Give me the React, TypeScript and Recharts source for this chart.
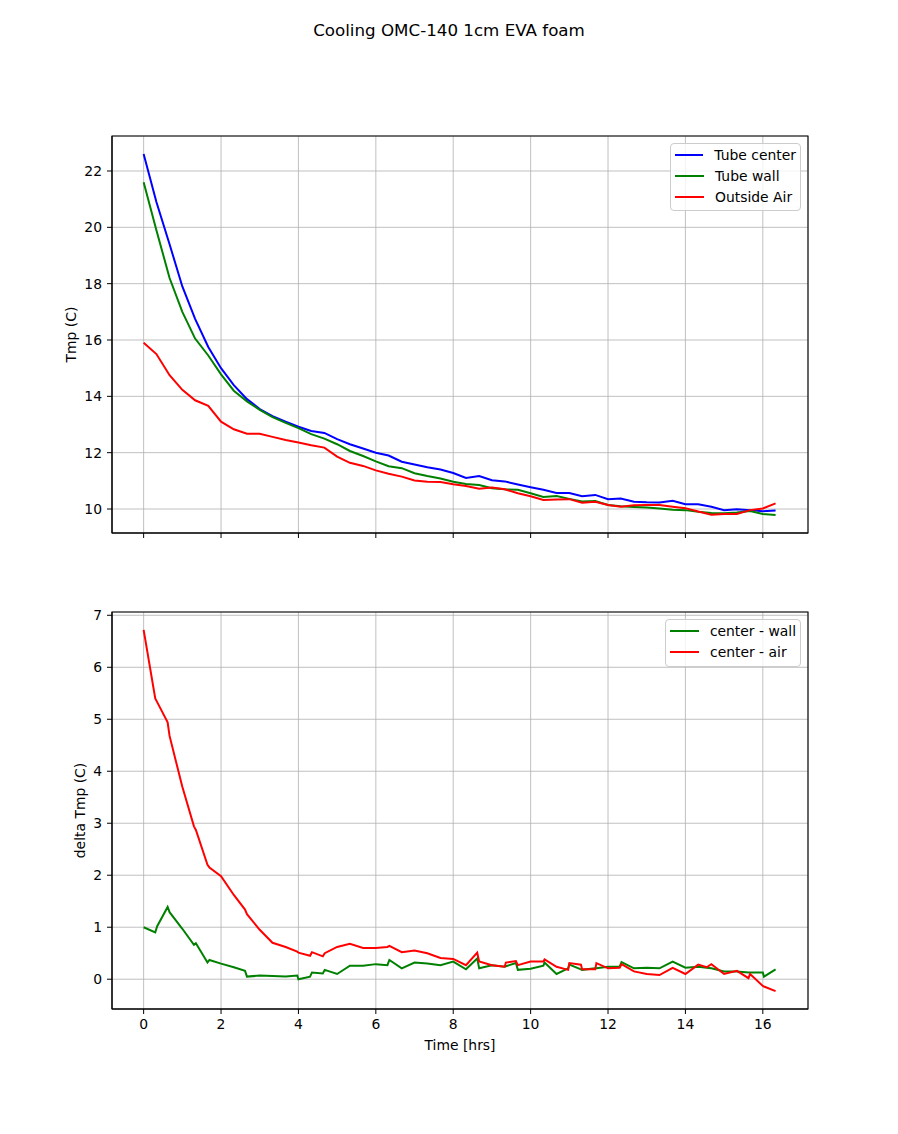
import React from 'react';
import { LineChart, Line, XAxis, YAxis, CartesianGrid, ReferenceArea, Legend } from 'recharts';

// ---- Data ----
const hours = [0, 0.33, 0.67, 1, 1.33, 1.67, 2, 2.33, 2.67, 3, 3.33, 3.67, 4, 4.33, 4.67, 5, 5.33, 5.67, 6, 6.33, 6.67, 7, 7.33, 7.67, 8, 8.33, 8.67, 9, 9.33, 9.67, 10, 10.33, 10.67, 11, 11.33, 11.67, 12, 12.33, 12.67, 13, 13.33, 13.67, 14, 14.33, 14.67, 15, 15.33, 15.67, 16, 16.33];
const tubeCenter = [22.6, 20.9, 19.4, 17.9, 16.75, 15.75, 15.0, 14.4, 13.9, 13.55, 13.3, 13.1, 12.92, 12.77, 12.7, 12.48, 12.3, 12.15, 12.0, 11.9, 11.68, 11.58, 11.48, 11.4, 11.28, 11.1, 11.17, 11.02, 10.98, 10.87, 10.77, 10.68, 10.57, 10.57, 10.45, 10.5, 10.35, 10.37, 10.26, 10.24, 10.23, 10.29, 10.17, 10.17, 10.08, 9.96, 9.99, 9.96, 9.92, 9.95];
const tubeWall = [21.6, 19.9, 18.2, 17.0, 16.05, 15.45, 14.78, 14.2, 13.82, 13.52, 13.26, 13.06, 12.87, 12.66, 12.5, 12.3, 12.06, 11.88, 11.69, 11.52, 11.45, 11.27, 11.17, 11.08, 10.97, 10.89, 10.85, 10.74, 10.7, 10.68, 10.56, 10.43, 10.46, 10.36, 10.27, 10.28, 10.14, 10.1, 10.07, 10.05, 10.02, 9.97, 9.96, 9.9, 9.86, 9.85, 9.88, 9.93, 9.82, 9.79];
const outsideAir = [15.9, 15.5, 14.75, 14.23, 13.86, 13.66, 13.1, 12.83, 12.67, 12.67, 12.56, 12.45, 12.36, 12.26, 12.18, 11.86, 11.64, 11.53, 11.37, 11.25, 11.15, 11.01, 10.97, 10.96, 10.88, 10.82, 10.72, 10.76, 10.7, 10.56, 10.45, 10.32, 10.34, 10.35, 10.22, 10.26, 10.14, 10.08, 10.13, 10.14, 10.14, 10.08, 10.03, 9.91, 9.8, 9.82, 9.82, 9.96, 10.02, 10.2];

const deltaHours = [0, 0.3, 0.35, 0.62, 0.67, 1, 1.3, 1.35, 1.65, 1.7, 2, 2.33, 2.62, 2.67, 3, 3.33, 3.67, 3.97, 4, 4.3, 4.35, 4.63, 4.68, 5, 5.33, 5.67, 6, 6.3, 6.35, 6.67, 7, 7.33, 7.67, 8, 8.33, 8.62, 8.67, 9, 9.33, 9.36, 9.62, 9.67, 10, 10.33, 10.36, 10.67, 10.97, 11, 11.3, 11.33, 11.67, 11.7, 12, 12.3, 12.35, 12.67, 13, 13.33, 13.67, 14, 14.33, 14.55, 14.67, 15, 15.33, 15.63, 15.67, 16, 16.03, 16.33];
const centerMinusWall = [1.0, 0.9, 1.02, 1.39, 1.29, 0.97, 0.66, 0.69, 0.32, 0.37, 0.3, 0.23, 0.16, 0.05, 0.07, 0.06, 0.05, 0.07, 0.0, 0.05, 0.13, 0.11, 0.18, 0.1, 0.26, 0.26, 0.29, 0.27, 0.37, 0.21, 0.32, 0.3, 0.27, 0.34, 0.19, 0.4, 0.21, 0.27, 0.24, 0.25, 0.31, 0.18, 0.2, 0.26, 0.32, 0.1, 0.21, 0.28, 0.19, 0.18, 0.21, 0.21, 0.24, 0.24, 0.33, 0.21, 0.22, 0.21, 0.34, 0.22, 0.24, 0.22, 0.21, 0.15, 0.15, 0.13, 0.13, 0.13, 0.05, 0.19];
const centerMinusAir = [6.72, 5.4, 5.33, 4.94, 4.68, 3.7, 2.94, 2.87, 2.2, 2.15, 1.98, 1.62, 1.34, 1.25, 0.95, 0.7, 0.62, 0.53, 0.51, 0.45, 0.52, 0.44, 0.5, 0.62, 0.68, 0.6, 0.6, 0.62, 0.64, 0.52, 0.55, 0.5, 0.41, 0.39, 0.27, 0.51, 0.34, 0.27, 0.24, 0.32, 0.35, 0.27, 0.34, 0.34, 0.38, 0.24, 0.18, 0.31, 0.28, 0.19, 0.19, 0.31, 0.21, 0.22, 0.29, 0.15, 0.1, 0.08, 0.22, 0.1, 0.28, 0.23, 0.29, 0.1, 0.16, 0.02, 0.1, -0.13, -0.14, -0.23];

const topSeriesNames = ['Tube center', 'Tube wall', 'Outside Air'];
const bottomSeriesNames = ['center - wall', 'center - air'];

const xTicks = [0, 2, 4, 6, 8, 10, 12, 14, 16];
const tmpTicks = [10, 12, 14, 16, 18, 20, 22];
const deltaTicks = [0, 1, 2, 3, 4, 5, 6, 7];

const X_DOMAIN: [number, number] = [-0.8175, 17.1675];
const TMP_DOMAIN: [number, number] = [9.148, 23.242];
const DELTA_DOMAIN: [number, number] = [-0.573, 7.063];

const topRows = hours.map((t, i) => ({ t, center: tubeCenter[i], wall: tubeWall[i], air: outsideAir[i] }));
const bottomRows = deltaHours.map((t, i) => ({ t, cw: centerMinusWall[i], ca: centerMinusAir[i] }));

const FONT = '"DejaVu Sans", sans-serif';
const FS = 13.9;

const tickStyle = { fill: '#000', fontSize: FS, fontFamily: FONT };

const yLabel = (text: string, cx: number) => (props: any) => {
  const vb = props.viewBox || {};
  const y = (vb.y ?? 0) + (vb.height ?? 0) / 2;
  return (
    <text x={cx} y={y} transform={`rotate(-90, ${cx}, ${y})`} textAnchor="middle" dominantBaseline="central" fontSize={FS} fontFamily={FONT} fill="#000">
      {text}
    </text>
  );
};

const xLabel = (text: string) => (props: any) => {
  const vb = props.viewBox || {};
  const x = (vb.x ?? 0) + (vb.width ?? 0) / 2;
  const y = (vb.y ?? 0) + 36;
  return (
    <text x={x} y={y} textAnchor="middle" dominantBaseline="central" fontSize={FS} fontFamily={FONT} fill="#000">
      {text}
    </text>
  );
};

const makeLegend = (width: number, order: string[]) => (props: any) => {
  const payload = [...(props.payload || [])].sort(
    (a: any, b: any) => order.indexOf(a.value) - order.indexOf(b.value)
  );
  return (
    <div
      style={{
        width,
        boxSizing: 'border-box',
        background: 'rgba(255,255,255,0.8)',
        border: '1px solid #cccccc',
        borderRadius: 4,
        padding: '1px 4px 3px 2px',
        fontFamily: FONT,
        fontSize: FS,
        color: '#000',
      }}
    >
      {payload.map((p: any) => (
        <div key={p.value} style={{ display: 'flex', alignItems: 'center', height: 20.8 }}>
          <div style={{ width: 29, height: 2, background: p.color, marginLeft: 2, marginRight: 11 }} />
          <span style={{ whiteSpace: 'nowrap', lineHeight: '20.8px' }}>{p.value}</span>
        </div>
      ))}
    </div>
  );
};

export default function App() {
  return (
    <div style={{ position: 'absolute', left: 0, top: 0, width: 898, height: 1134, background: '#fff', fontFamily: FONT }}>
      <div style={{ position: 'absolute', left: 0, top: 20, width: 898, textAlign: 'center', fontSize: 16.7, lineHeight: '20px', color: '#000' }}>
        Cooling OMC-140 1cm EVA foam
      </div>

      <div style={{ position: 'absolute', left: 0, top: 0 }}>
        <LineChart width={898} height={575} data={topRows} margin={{ top: 136, right: 90, left: 0, bottom: 0 }}>
          <CartesianGrid stroke="#b0b0b0" strokeWidth={0.8} />
          <XAxis
            type="number"
            dataKey="t"
            domain={X_DOMAIN}
            ticks={xTicks}
            allowDataOverflow
            height={42}
            tickSize={5}
            tickMargin={5}
            tickFormatter={() => ''}
            tick={tickStyle}
            tickLine={{ stroke: '#000' }}
            axisLine={{ stroke: '#000' }}
          />
          <YAxis
            type="number"
            domain={TMP_DOMAIN}
            ticks={tmpTicks}
            allowDataOverflow
            width={112}
            tickSize={5}
            tickMargin={5}
            tick={tickStyle}
            tickLine={{ stroke: '#000' }}
            axisLine={{ stroke: '#000' }}
            label={yLabel('Tmp (C)', 71)}
          />
          <ReferenceArea x1={X_DOMAIN[0]} x2={X_DOMAIN[1]} y1={TMP_DOMAIN[0]} y2={TMP_DOMAIN[1]} fill="none" stroke="#000" strokeWidth={1.1} ifOverflow="visible" />
          <Line type="linear" dataKey="center" name={topSeriesNames[0]} stroke="#0000ff" strokeWidth={2} dot={false} isAnimationActive={false} />
          <Line type="linear" dataKey="wall" name={topSeriesNames[1]} stroke="#008000" strokeWidth={2} dot={false} isAnimationActive={false} />
          <Line type="linear" dataKey="air" name={topSeriesNames[2]} stroke="#ff0000" strokeWidth={2} dot={false} isAnimationActive={false} />
          <Legend
            layout="vertical"
            align="center"
            verticalAlign="middle"
            content={makeLegend(131, topSeriesNames)}
            wrapperStyle={{ position: 'absolute', top: 143, left: 670, width: 131, height: 'auto' }}
          />
        </LineChart>
      </div>

      <div style={{ position: 'absolute', left: 0, top: 560 }}>
        <LineChart width={898} height={574} data={bottomRows} margin={{ top: 52, right: 90, left: 0, bottom: 0 }}>
          <CartesianGrid stroke="#b0b0b0" strokeWidth={0.8} />
          <XAxis
            type="number"
            dataKey="t"
            domain={X_DOMAIN}
            ticks={xTicks}
            allowDataOverflow
            height={125}
            tickSize={5}
            tickMargin={5}
            tick={tickStyle}
            tickLine={{ stroke: '#000' }}
            axisLine={{ stroke: '#000' }}
            label={xLabel('Time [hrs]')}
          />
          <YAxis
            type="number"
            domain={DELTA_DOMAIN}
            ticks={deltaTicks}
            allowDataOverflow
            width={112}
            tickSize={5}
            tickMargin={5}
            tick={tickStyle}
            tickLine={{ stroke: '#000' }}
            axisLine={{ stroke: '#000' }}
            label={yLabel('delta Tmp (C)', 80)}
          />
          <ReferenceArea x1={X_DOMAIN[0]} x2={X_DOMAIN[1]} y1={DELTA_DOMAIN[0]} y2={DELTA_DOMAIN[1]} fill="none" stroke="#000" strokeWidth={1.1} ifOverflow="visible" />
          <Line type="linear" dataKey="cw" name={bottomSeriesNames[0]} stroke="#008000" strokeWidth={2} dot={false} isAnimationActive={false} />
          <Line type="linear" dataKey="ca" name={bottomSeriesNames[1]} stroke="#ff0000" strokeWidth={2} dot={false} isAnimationActive={false} />
          <Legend
            layout="vertical"
            align="center"
            verticalAlign="middle"
            content={makeLegend(136, bottomSeriesNames)}
            wrapperStyle={{ position: 'absolute', top: 59, left: 665, width: 136, height: 'auto' }}
          />
        </LineChart>
      </div>
    </div>
  );
}
